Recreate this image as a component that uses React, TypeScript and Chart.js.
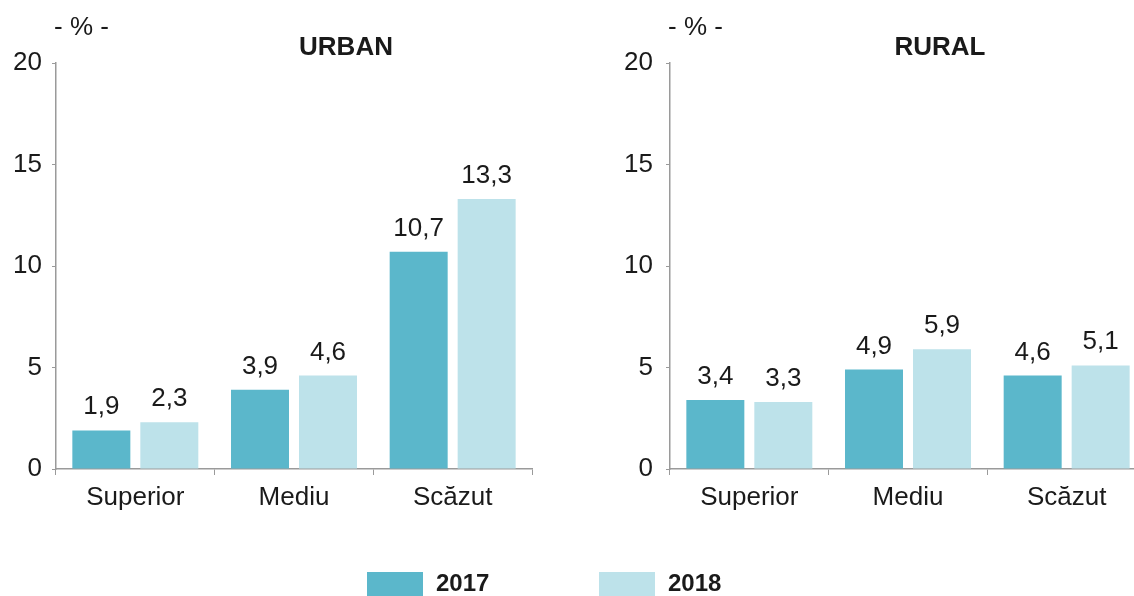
import React, { useEffect, useRef } from "react";
import { Chart, registerables } from "chart.js";

Chart.register(...registerables);

const categories = ["Superior", "Mediu", "Scăzut"];
const seriesLabels = ["2017", "2018"];
const urban2017 = [1.9, 3.9, 10.7];
const urban2018 = [2.3, 4.6, 13.3];
const rural2017 = [3.4, 4.9, 4.6];
const rural2018 = [3.3, 5.9, 5.1];
const yTicks = [0, 5, 10, 15, 20];
const unitLabel = "- % -";
const panelTitles = ["URBAN", "RURAL"];
const seriesColors = ["#5bb7cb", "#bde2ea"];

const FONT = "'Liberation Sans', Arial, Helvetica, sans-serif";
const TEXT = "#1a1a1a";
const AXIS = "#9a9a9a";

const fmt = (v: number) => v.toFixed(1).replace(".", ",");

const decorPlugin = {
  id: "panelDecor",
  afterDatasetsDraw(chart: any, _args: any, opts: any) {
    const ctx = chart.ctx;
    const area = chart.chartArea;
    ctx.save();
    ctx.fillStyle = TEXT;
    // value labels
    ctx.font = `26px ${FONT}`;
    ctx.textAlign = "center";
    ctx.textBaseline = "alphabetic";
    chart.data.datasets.forEach((ds: any, di: number) => {
      const meta = chart.getDatasetMeta(di);
      meta.data.forEach((bar: any, i: number) => {
        ctx.fillText(fmt(ds.data[i]), bar.x, bar.y - 16);
      });
    });
    // unit label
    ctx.textAlign = "left";
    ctx.textBaseline = "middle";
    ctx.fillText(opts.unit, area.left - 2, 28);
    // panel title
    ctx.font = `bold 26px ${FONT}`;
    ctx.textAlign = "center";
    ctx.fillText(opts.title, area.left + opts.titleOffset, 48);
    // legend
    if (opts.legend) {
      const items = opts.legend as { x: number; tx: number }[];
      ctx.font = `bold 24px ${FONT}`;
      ctx.textAlign = "left";
      ctx.textBaseline = "middle";
      chart.data.datasets.forEach((ds: any, di: number) => {
        const it = items[di];
        ctx.fillStyle = ds.backgroundColor;
        ctx.fillRect(it.x, 572, 56, 26);
        ctx.fillStyle = TEXT;
        ctx.fillText(ds.label, it.tx, 584);
      });
    }
    ctx.restore();
  },
};

function makeConfig(
  d2017: number[],
  d2018: number[],
  title: string,
  yWidth: number,
  padRight: number,
  titleOffset: number,
  labelPad: number,
  legend: any
): any {
  return {
    type: "bar",
    data: {
      labels: categories,
      datasets: [
        {
          label: seriesLabels[0],
          data: d2017,
          backgroundColor: seriesColors[0],
          barPercentage: 0.853,
          categoryPercentage: 0.857,
        },
        {
          label: seriesLabels[1],
          data: d2018,
          backgroundColor: seriesColors[1],
          barPercentage: 0.853,
          categoryPercentage: 0.857,
        },
      ],
    },
    options: {
      responsive: false,
      animation: false,
      devicePixelRatio: 1,
      layout: { padding: { top: 63, right: padRight, left: 0, bottom: 0 } },
      plugins: {
        legend: { display: false },
        title: { display: false },
        tooltip: { enabled: false },
        panelDecor: { unit: unitLabel, title, titleOffset, legend },
      },
      scales: {
        x: {
          grid: {
            display: true,
            drawOnChartArea: false,
            drawTicks: true,
            tickLength: 6,
            color: AXIS,
            offset: true,
          },
          border: { display: true, color: AXIS, width: 1.5 },
          ticks: {
            color: TEXT,
            font: { family: FONT, size: 26 },
            padding: 7,
            maxRotation: 0,
          },
          afterFit: (scale: any) => {
            scale.height = 127;
          },
        },
        y: {
          min: 0,
          max: 20,
          grid: {
            display: true,
            drawOnChartArea: false,
            drawTicks: true,
            tickLength: 4,
            color: AXIS,
          },
          border: { display: true, color: AXIS, width: 1.5 },
          ticks: {
            color: TEXT,
            font: { family: FONT, size: 26 },
            padding: labelPad,
          },
          afterBuildTicks: (scale: any) => {
            scale.ticks = yTicks.map((v) => ({ value: v }));
          },
          afterFit: (scale: any) => {
            scale.width = yWidth;
          },
        },
      },
    },
    plugins: [decorPlugin],
  };
}

export default function App() {
  const leftRef = useRef<HTMLCanvasElement>(null);
  const rightRef = useRef<HTMLCanvasElement>(null);

  useEffect(() => {
    const left = new Chart(
      leftRef.current as HTMLCanvasElement,
      makeConfig(urban2017, urban2018, panelTitles[0], 56, 602, 290, 10, [
        { x: 367, tx: 436 },
        { x: 599, tx: 668 },
      ])
    );
    const right = new Chart(
      rightRef.current as HTMLCanvasElement,
      makeConfig(rural2017, rural2018, panelTitles[1], 103, 4, 270, 13, null)
    );
    return () => {
      left.destroy();
      right.destroy();
    };
  }, []);

  return (
    <div
      style={{
        position: "fixed",
        left: 0,
        top: 0,
        width: 1134,
        height: 596,
        overflow: "hidden",
        background: "#ffffff",
      }}
    >
      <canvas
        ref={leftRef}
        width={1134}
        height={596}
        style={{ position: "absolute", left: 0, top: 0, width: 1134, height: 596 }}
      />
      <canvas
        ref={rightRef}
        width={583}
        height={596}
        style={{ position: "absolute", left: 567, top: 0, width: 583, height: 596 }}
      />
    </div>
  );
}
